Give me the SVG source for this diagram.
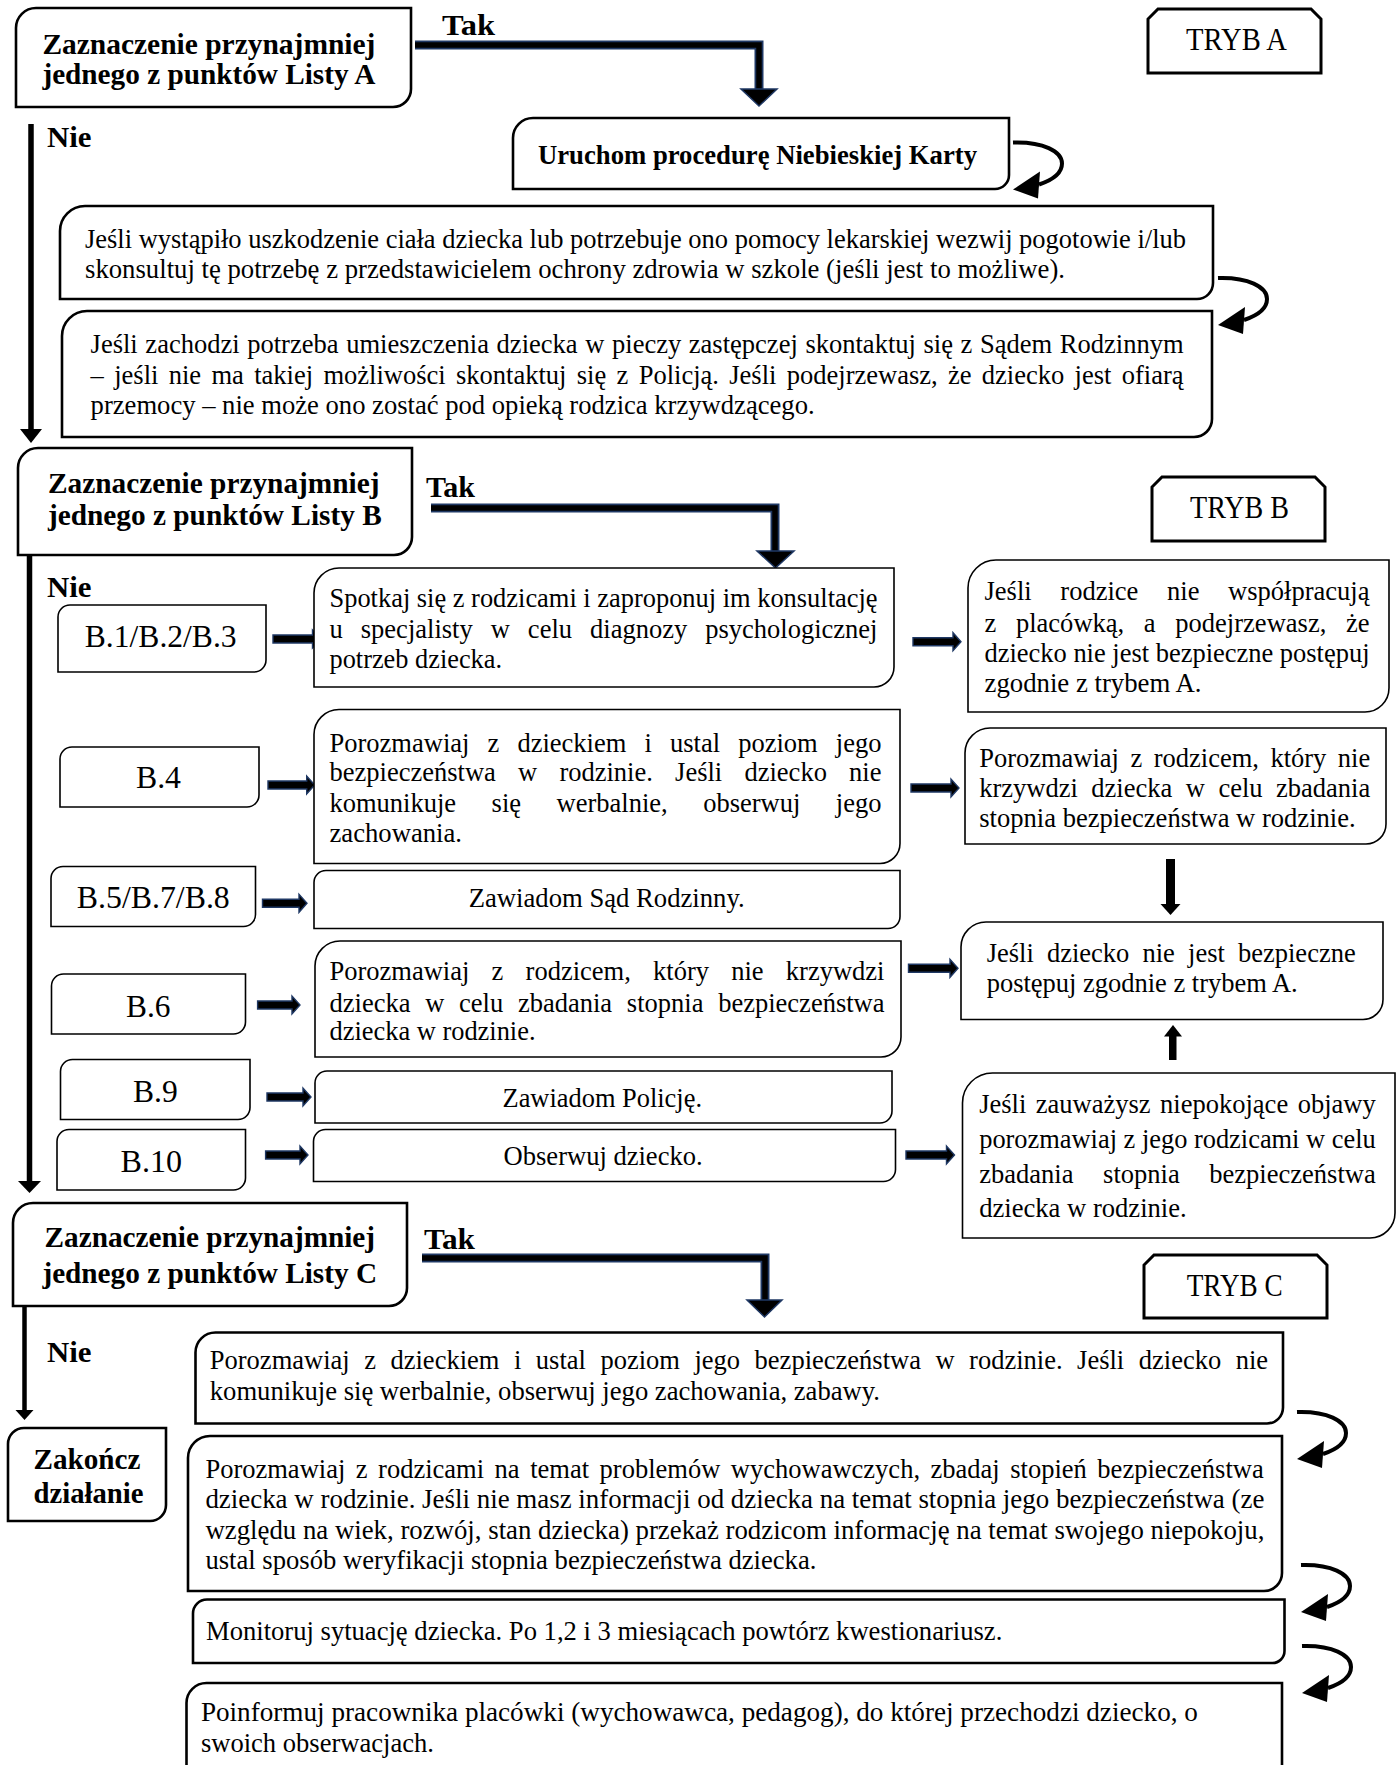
<svg xmlns="http://www.w3.org/2000/svg" xmlns:xlink="http://www.w3.org/1999/xlink" width="1397" height="1765" viewBox="0 0 1397 1765">
<style>
.bg{fill:#fff}
.b3{fill:#fff;stroke:#000;stroke-width:2.6}
.b2{fill:#fff;stroke:#000;stroke-width:1.6}
.ty{fill:#fff;stroke:#000;stroke-width:3}
.bd{font-family:"Liberation Serif","Times New Roman",serif;font-weight:bold;font-size:30px;fill:#000}
.t{font-family:"Liberation Serif","Times New Roman",serif;font-size:26.5px;fill:#000}
.lb{font-family:"Liberation Serif","Times New Roman",serif;font-size:31px;fill:#000}
.nv{fill:none;stroke:#1f3864;stroke-width:9;stroke-linejoin:miter}
.nk{fill:none;stroke:#000;stroke-width:5.5;stroke-linejoin:miter}
.nh{fill:#000;stroke:#1f3864;stroke-width:1.5}
.blk{fill:#000;stroke:#1f3864;stroke-width:1.4}
.vl{fill:none;stroke:#000;stroke-width:5.5}
.cu{fill:none;stroke:#000;stroke-width:4}
</style>
<defs>
<g id="curl">
<path class="cu" d="M0,0 C30,-1 49,9 49,21 C49,31 38,38 26,42"/>
<polygon points="0,47 27,29 25,56" fill="#000"/>
</g>
</defs>
<rect class="bg" x="0" y="0" width="1397" height="1765"/>

<g id="connectors">
<path class="nv" d="M415,45 H759 V90"/>
<path class="nk" d="M415,45 H759 V90"/>
<polygon class="nh" points="741,89 777,89 759,106"/>
<path class="nv" d="M431,508 H775 V552"/>
<path class="nk" d="M431,508 H775 V552"/>
<polygon class="nh" points="757,551 794,551 775.5,568"/>
<path class="nv" d="M422,1258 H765 V1301"/>
<path class="nk" d="M422,1258 H765 V1301"/>
<polygon class="nh" points="747,1300 782,1300 764.5,1317"/>
<line class="vl" x1="31" y1="124" x2="31" y2="431"/>
<polygon points="20,429 42,429 31,443" fill="#000"/>
<line class="vl" x1="29.5" y1="555" x2="29.5" y2="1183"/>
<polygon points="18,1181 41,1181 29.5,1193" fill="#000"/>
<line class="vl" x1="24.5" y1="1306" x2="24.5" y2="1412" style="stroke-width:4.5"/>
<polygon points="15.5,1410 33.5,1410 24.5,1420" fill="#000"/>
<path class="blk" d="M273,635 H312.5 V630 L320.5,639 L312.5,648 V643 H273 Z"/>
<path class="blk" d="M913,637.7 H953 V632.7 L961,641.7 L953,650.7 V645.7 H913 Z"/>
<path class="blk" d="M268,781 H306.7 V776 L314.7,785 L306.7,794 V789 H268 Z"/>
<path class="blk" d="M911,784 H951 V779 L959,788 L951,797 V792 H911 Z"/>
<path class="blk" d="M262.5,899.3 H299 V894.3 L307,903.3 L299,912.3 V907.3 H262.5 Z"/>
<path class="blk" d="M257.6,1001 H292 V996 L300,1005 L292,1014 V1009 H257.6 Z"/>
<path class="blk" d="M908.5,964.3 H950 V959.3 L958,968.3 L950,977.3 V972.3 H908.5 Z"/>
<path class="blk" d="M267,1093 H303 V1088 L311,1097 L303,1106 V1101 H267 Z"/>
<path class="blk" d="M265.6,1151 H300 V1146 L308,1155 L300,1164 V1159 H265.6 Z"/>
<path class="blk" d="M906,1151 H946.5 V1146 L954.5,1155 L946.5,1164 V1159 H906 Z"/>
<rect x="1166" y="859" width="9" height="46" fill="#000"/>
<polygon points="1160.5,904 1180.5,904 1170.5,915" fill="#000"/>
<rect x="1169" y="1035" width="7.5" height="25" fill="#000"/>
<polygon points="1164,1036.5 1182,1036.5 1173,1025" fill="#000"/>
<use xlink:href="#curl" href="#curl" x="1013" y="142.5"/>
<use xlink:href="#curl" href="#curl" x="1218" y="278"/>
<use xlink:href="#curl" href="#curl" x="1297" y="1412"/>
<use xlink:href="#curl" href="#curl" x="1301" y="1565"/>
<use xlink:href="#curl" href="#curl" x="1302" y="1646"/>
</g>

<g id="listaA">
<path class="b3" d="M36,8 H411 V89 A18,18 0 0 1 393,107 H16 V28 A20,20 0 0 1 36,8 Z"/>
<text class="bd" x="42.4" y="53.5" textLength="333" lengthAdjust="spacingAndGlyphs">Zaznaczenie przynajmniej</text>
<text class="bd" x="42.4" y="84" textLength="333" lengthAdjust="spacingAndGlyphs">jednego z punktów Listy A</text>
</g>
<g id="takA"><text class="bd" x="442" y="35" textLength="53" lengthAdjust="spacingAndGlyphs">Tak</text></g>
<g id="nieA"><text class="bd" x="47" y="147" textLength="44.5" lengthAdjust="spacingAndGlyphs">Nie</text></g>
<g id="trybA">
<polygon class="ty" points="1158,9 1311,9 1321,19 1321,73 1148,73 1148,19"/>
<text class="lb" x="1186" y="50" textLength="101" lengthAdjust="spacingAndGlyphs">TRYB A</text>
</g>
<g id="uruchom">
<path class="b3" d="M533,118 H1009 V175 A14,14 0 0 1 995,189 H513 V138 A20,20 0 0 1 533,118 Z"/>
<text class="bd" style="font-size:27px" x="538" y="164" textLength="439" lengthAdjust="spacingAndGlyphs">Uruchom procedurę Niebieskiej Karty</text>
</g>
<g id="pogotowie">
<path class="b3" d="M85,206 H1213 V283 A16,16 0 0 1 1197,299 H60 V231 A25,25 0 0 1 85,206 Z"/>
<text class="t" x="85" y="247.5" textLength="1101" lengthAdjust="spacingAndGlyphs">Jeśli wystąpiło uszkodzenie ciała dziecka lub potrzebuje ono pomocy lekarskiej wezwij pogotowie i/lub</text>
<text class="t" x="85" y="277.5" textLength="980" lengthAdjust="spacingAndGlyphs">skonsultuj tę potrzebę z przedstawicielem ochrony zdrowia w szkole (jeśli jest to możliwe).</text>
</g>
<g id="piecza">
<path class="b3" d="M87,311 H1212 V419 A18,18 0 0 1 1194,437 H62 V336 A25,25 0 0 1 87,311 Z"/>
<text class="t" style="word-spacing:1px" x="90.6" y="352.7" textLength="1093" lengthAdjust="spacingAndGlyphs">Jeśli zachodzi potrzeba umieszczenia dziecka w pieczy zastępczej skontaktuj się z Sądem Rodzinnym</text>
<text class="t" style="word-spacing:3.7px" x="90.6" y="383.5" textLength="1093" lengthAdjust="spacingAndGlyphs">– jeśli nie ma takiej możliwości skontaktuj się z Policją. Jeśli podejrzewasz, że dziecko jest ofiarą</text>
<text class="t" x="90.6" y="414" textLength="724" lengthAdjust="spacingAndGlyphs">przemocy – nie może ono zostać pod opieką rodzica krzywdzącego.</text>
</g>

<g id="listaB">
<path class="b3" d="M38,448 H412 V537 A18,18 0 0 1 394,555 H18 V468 A20,20 0 0 1 38,448 Z"/>
<text class="bd" x="48" y="493.3" textLength="331.5" lengthAdjust="spacingAndGlyphs">Zaznaczenie przynajmniej</text>
<text class="bd" x="48" y="525" textLength="333.7" lengthAdjust="spacingAndGlyphs">jednego z punktów Listy B</text>
</g>
<g id="takB"><text class="bd" x="426" y="497" textLength="49" lengthAdjust="spacingAndGlyphs">Tak</text></g>
<g id="nieB"><text class="bd" x="47" y="597" textLength="44.5" lengthAdjust="spacingAndGlyphs">Nie</text></g>
<g id="trybB">
<polygon class="ty" points="1162,477 1315,477 1325,487 1325,541 1152,541 1152,487"/>
<text class="lb" x="1190" y="518" textLength="99" lengthAdjust="spacingAndGlyphs">TRYB B</text>
</g>
<g id="b123">
<path class="b2" d="M70,605 H266 V660 A12,12 0 0 1 254,672 H58 V617 A12,12 0 0 1 70,605 Z"/>
<text class="lb" x="84.8" y="646.7" textLength="151.8" lengthAdjust="spacingAndGlyphs">B.1/B.2/B.3</text>
</g>
<g id="spotkaj">
<path class="b2" d="M339,568 H894 V667 A20,20 0 0 1 874,687 H314 V593 A25,25 0 0 1 339,568 Z"/>
<text class="t" x="329.5" y="606.7" textLength="548" lengthAdjust="spacingAndGlyphs">Spotkaj się z rodzicami i zaproponuj im konsultację</text>
<text class="t" style="word-spacing:11.4px" x="329.5" y="638.3" textLength="548" lengthAdjust="spacingAndGlyphs">u specjalisty w celu diagnozy psychologicznej</text>
<text class="t" x="329.5" y="668.3" textLength="172.5" lengthAdjust="spacingAndGlyphs">potrzeb dziecka.</text>
</g>
<g id="rodzice">
<path class="b2" d="M996,560 H1389 V688 A24,24 0 0 1 1365,712 H968 V588 A28,28 0 0 1 996,560 Z"/>
<text class="t" style="word-spacing:22px" x="984.5" y="600" textLength="385" lengthAdjust="spacingAndGlyphs">Jeśli rodzice nie współpracują</text>
<text class="t" style="word-spacing:13px" x="984.5" y="631.7" textLength="385" lengthAdjust="spacingAndGlyphs">z placówką, a podejrzewasz, że</text>
<text class="t" x="984.5" y="661.7" textLength="385" lengthAdjust="spacingAndGlyphs">dziecko nie jest bezpieczne postępuj</text>
<text class="t" x="984.5" y="691.7" textLength="217" lengthAdjust="spacingAndGlyphs">zgodnie z trybem A.</text>
</g>
<g id="b4">
<path class="b2" d="M72,747 H259 V795 A12,12 0 0 1 247,807 H60 V759 A12,12 0 0 1 72,747 Z"/>
<text class="lb" x="136" y="788" textLength="45" lengthAdjust="spacingAndGlyphs">B.4</text>
</g>
<g id="rozmowaDzieckoB">
<path class="b2" d="M339,709.5 H900 V843.5 A20,20 0 0 1 880,863.5 H314 V734.5 A25,25 0 0 1 339,709.5 Z"/>
<text class="t" style="word-spacing:11.5px" x="329.5" y="751.7" textLength="552" lengthAdjust="spacingAndGlyphs">Porozmawiaj z dzieckiem i ustal poziom jego</text>
<text class="t" style="word-spacing:15.6px" x="329.5" y="780.5" textLength="552" lengthAdjust="spacingAndGlyphs">bezpieczeństwa w rodzinie. Jeśli dziecko nie</text>
<text class="t" style="word-spacing:28.9px" x="329.5" y="811.7" textLength="552" lengthAdjust="spacingAndGlyphs">komunikuje się werbalnie, obserwuj jego</text>
<text class="t" x="329.5" y="841.7" textLength="132.5" lengthAdjust="spacingAndGlyphs">zachowania.</text>
</g>
<g id="rozmowaRodzicPrawy">
<path class="b2" d="M990,728 H1386 V824 A20,20 0 0 1 1366,844 H965 V753 A25,25 0 0 1 990,728 Z"/>
<text class="t" style="word-spacing:4.9px" x="979.2" y="766.7" textLength="391" lengthAdjust="spacingAndGlyphs">Porozmawiaj z rodzicem, który nie</text>
<text class="t" style="word-spacing:6.9px" x="979.2" y="796.7" textLength="391" lengthAdjust="spacingAndGlyphs">krzywdzi dziecka w celu zbadania</text>
<text class="t" x="979.2" y="826.7" textLength="376.5" lengthAdjust="spacingAndGlyphs">stopnia bezpieczeństwa w rodzinie.</text>
</g>
<g id="b578">
<path class="b2" d="M63,866.5 H255.5 V914.5 A12,12 0 0 1 243.5,926.5 H51 V878.5 A12,12 0 0 1 63,866.5 Z"/>
<text class="lb" x="76.8" y="908.3" textLength="153" lengthAdjust="spacingAndGlyphs">B.5/B.7/B.8</text>
</g>
<g id="sad">
<path class="b2" d="M326,870.5 H900 V916.5 A12,12 0 0 1 888,928.5 H314 V882.5 A12,12 0 0 1 326,870.5 Z"/>
<text class="t" x="468.7" y="906.7" textLength="276" lengthAdjust="spacingAndGlyphs">Zawiadom Sąd Rodzinny.</text>
</g>
<g id="b6">
<path class="b2" d="M63.5,974 H245.5 V1022 A12,12 0 0 1 233.5,1034 H51.5 V986 A12,12 0 0 1 63.5,974 Z"/>
<text class="lb" x="126" y="1016.7" textLength="44.5" lengthAdjust="spacingAndGlyphs">B.6</text>
</g>
<g id="rozmowaRodzicSrodek">
<path class="b2" d="M340,941 H901 V1037 A20,20 0 0 1 881,1057 H315 V966 A25,25 0 0 1 340,941 Z"/>
<text class="t" style="word-spacing:15.6px" x="329.5" y="980" textLength="555" lengthAdjust="spacingAndGlyphs">Porozmawiaj z rodzicem, który nie krzywdzi</text>
<text class="t" style="word-spacing:8.1px" x="329.5" y="1011.7" textLength="555" lengthAdjust="spacingAndGlyphs">dziecka w celu zbadania stopnia bezpieczeństwa</text>
<text class="t" x="329.5" y="1040" textLength="206" lengthAdjust="spacingAndGlyphs">dziecka w rodzinie.</text>
</g>
<g id="niebezpieczne">
<path class="b2" d="M986,922 H1383 V999.5 A20,20 0 0 1 1363,1019.5 H961 V947 A25,25 0 0 1 986,922 Z"/>
<text class="t" style="word-spacing:6.5px" x="986.7" y="961.7" textLength="369" lengthAdjust="spacingAndGlyphs">Jeśli dziecko nie jest bezpieczne</text>
<text class="t" x="986.7" y="991.7" textLength="311" lengthAdjust="spacingAndGlyphs">postępuj zgodnie z trybem A.</text>
</g>
<g id="b9">
<path class="b2" d="M72.5,1059.5 H250 V1107.5 A12,12 0 0 1 238,1119.5 H60.5 V1071.5 A12,12 0 0 1 72.5,1059.5 Z"/>
<text class="lb" x="133" y="1101.7" textLength="44.7" lengthAdjust="spacingAndGlyphs">B.9</text>
</g>
<g id="policja">
<path class="b2" d="M327,1071 H892 V1111 A12,12 0 0 1 880,1123 H315 V1083 A12,12 0 0 1 327,1071 Z"/>
<text class="t" x="502.5" y="1106.7" textLength="199.5" lengthAdjust="spacingAndGlyphs">Zawiadom Policję.</text>
</g>
<g id="b10">
<path class="b2" d="M69,1129.5 H245.5 V1178 A12,12 0 0 1 233.5,1190 H57 V1141.5 A12,12 0 0 1 69,1129.5 Z"/>
<text class="lb" x="120.5" y="1171.7" textLength="61.5" lengthAdjust="spacingAndGlyphs">B.10</text>
</g>
<g id="obserwuj">
<path class="b2" d="M325.5,1129.5 H895.5 V1169.5 A12,12 0 0 1 883.5,1181.5 H313.5 V1141.5 A12,12 0 0 1 325.5,1129.5 Z"/>
<text class="t" x="503.6" y="1165" textLength="199" lengthAdjust="spacingAndGlyphs">Obserwuj dziecko.</text>
</g>
<g id="objawy">
<path class="b2" d="M992.5,1073 H1395 V1213 A25,25 0 0 1 1370,1238 H962.5 V1103 A30,30 0 0 1 992.5,1073 Z"/>
<text class="t" style="word-spacing:2.9px" x="979.2" y="1113.3" textLength="396.5" lengthAdjust="spacingAndGlyphs">Jeśli zauważysz niepokojące objawy</text>
<text class="t" x="979.2" y="1148.3" textLength="396.5" lengthAdjust="spacingAndGlyphs">porozmawiaj z jego rodzicami w celu</text>
<text class="t" style="word-spacing:23px" x="979.2" y="1183.3" textLength="396.5" lengthAdjust="spacingAndGlyphs">zbadania stopnia bezpieczeństwa</text>
<text class="t" x="979.2" y="1216.7" textLength="207.5" lengthAdjust="spacingAndGlyphs">dziecka w rodzinie.</text>
</g>

<g id="listaC">
<path class="b3" d="M33,1203 H407 V1288 A18,18 0 0 1 389,1306 H13 V1223 A20,20 0 0 1 33,1203 Z"/>
<text class="bd" x="44.6" y="1246.8" textLength="330.5" lengthAdjust="spacingAndGlyphs">Zaznaczenie przynajmniej</text>
<text class="bd" x="42.4" y="1282.9" textLength="334.6" lengthAdjust="spacingAndGlyphs">jednego z punktów Listy C</text>
</g>
<g id="takC"><text class="bd" x="424" y="1248.6" textLength="51" lengthAdjust="spacingAndGlyphs">Tak</text></g>
<g id="nieC"><text class="bd" x="47" y="1362" textLength="44.5" lengthAdjust="spacingAndGlyphs">Nie</text></g>
<g id="trybC">
<polygon class="ty" points="1154,1255 1317,1255 1327,1265 1327,1318 1144,1318 1144,1265"/>
<text class="lb" x="1186.7" y="1295.5" textLength="96" lengthAdjust="spacingAndGlyphs">TRYB C</text>
</g>
<g id="zakoncz">
<path class="b3" d="M24,1428 H166 V1505 A16,16 0 0 1 150,1521 H8 V1444 A16,16 0 0 1 24,1428 Z"/>
<text class="bd" x="33.5" y="1468.5" textLength="107" lengthAdjust="spacingAndGlyphs">Zakończ</text>
<text class="bd" x="33.5" y="1502.7" textLength="110" lengthAdjust="spacingAndGlyphs">działanie</text>
</g>
<g id="rozmowaDzieckoC">
<path class="b3" d="M215.5,1332.5 H1283 V1407.5 A16,16 0 0 1 1267,1423.5 H195.5 V1352.5 A20,20 0 0 1 215.5,1332.5 Z"/>
<text class="t" style="word-spacing:7.9px" x="209.8" y="1369.4" textLength="1058.3" lengthAdjust="spacingAndGlyphs">Porozmawiaj z dzieckiem i ustal poziom jego bezpieczeństwa w rodzinie. Jeśli dziecko nie</text>
<text class="t" x="209.8" y="1399.8" textLength="670.2" lengthAdjust="spacingAndGlyphs">komunikuje się werbalnie, obserwuj jego zachowania, zabawy.</text>
</g>
<g id="rozmowaRodziceC">
<path class="b3" d="M210,1436 H1282 V1573 A18,18 0 0 1 1264,1591 H188 V1458 A22,22 0 0 1 210,1436 Z"/>
<text class="t" style="word-spacing:3.9px" x="205.4" y="1477.5" textLength="1058.3" lengthAdjust="spacingAndGlyphs">Porozmawiaj z rodzicami na temat problemów wychowawczych, zbadaj stopień bezpieczeństwa</text>
<text class="t" x="205.4" y="1508.3" textLength="1059" lengthAdjust="spacingAndGlyphs">dziecka w rodzinie. Jeśli nie masz informacji od dziecka na temat stopnia jego bezpieczeństwa (ze</text>
<text class="t" x="205.4" y="1539" textLength="1059" lengthAdjust="spacingAndGlyphs">względu na wiek, rozwój, stan dziecka) przekaż rodzicom informację na temat swojego niepokoju,</text>
<text class="t" x="205.4" y="1569" textLength="611" lengthAdjust="spacingAndGlyphs">ustal sposób weryfikacji stopnia bezpieczeństwa dziecka.</text>
</g>
<g id="monitoruj">
<path class="b3" d="M207,1599.5 H1284.5 V1651 A12,12 0 0 1 1272.5,1663 H193 V1613.5 A14,14 0 0 1 207,1599.5 Z"/>
<text class="t" x="206" y="1640.4" textLength="796.3" lengthAdjust="spacingAndGlyphs">Monitoruj sytuację dziecka. Po 1,2 i 3 miesiącach powtórz kwestionariusz.</text>
</g>
<g id="poinformuj">
<path class="b3" d="M206.5,1683 H1282 V1800 H186.5 V1703 A20,20 0 0 1 206.5,1683 Z"/>
<text class="t" x="200.9" y="1721" textLength="997" lengthAdjust="spacingAndGlyphs">Poinformuj pracownika placówki (wychowawca, pedagog), do której przechodzi dziecko, o</text>
<text class="t" x="200.9" y="1751.5" textLength="233" lengthAdjust="spacingAndGlyphs">swoich obserwacjach.</text>
</g>
</svg>
